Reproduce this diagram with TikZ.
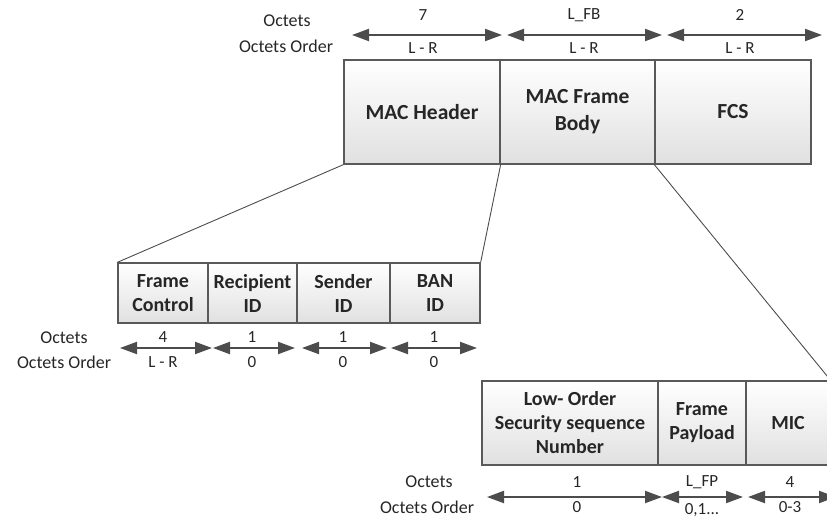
\documentclass[tikz,border=0pt]{standalone}
\usepackage{fontspec}
\setmainfont{Carlito}
\usetikzlibrary{arrows.meta}
\begin{document}
\begin{tikzpicture}[x=1pt,y=-1pt,
  box/.style={draw=black!65, line width=1.3pt, top color=white, bottom color=black!12,
    font=\bfseries\fontsize{20}{24}\selectfont, align=center, inner sep=0pt, text=black!85},
  bigbox/.style={box, font=\bfseries\fontsize{21.5}{27}\selectfont},
  dimarrow/.style={{Triangle[length=17pt,width=12pt]}-{Triangle[length=17pt,width=12pt]}, line width=2pt, draw=black!70},
  zoomline/.style={draw=black!70, line width=0.9pt},
  lbl/.style={font=\fontsize{18}{20}\selectfont, text=black!85, inner sep=0pt},
  num/.style={font=\fontsize{17}{18}\selectfont, text=black!85, inner sep=0pt}]
\useasboundingbox (0,0) rectangle (827,519);
\clip (0,0) rectangle (827,519);

% ---- top row ----
\node[bigbox, minimum width=156pt, minimum height=104pt] (mh)  at (422,112) {MAC Header};
\node[bigbox, minimum width=155pt, minimum height=104pt] (mfb) at (577.5,112) {MAC Frame\\Body};
\node[bigbox, minimum width=156pt, minimum height=104pt] (fcs) at (733,112) {FCS};

\node[lbl] (t1) at (287,21) {Octets};
\node[lbl] (t2) at (286,46) {Octets Order};

\coordinate (a1l) at (352,35); \coordinate (a1r) at (502,35);
\coordinate (a2l) at (507,35); \coordinate (a2r) at (662,35);
\coordinate (a3l) at (667,35); \coordinate (a3r) at (822,35);
\draw[dimarrow] (a1l) -- (a1r);
\draw[dimarrow] (a2l) -- (a2r);
\draw[dimarrow] (a3l) -- (a3r);
\node[num] (n1) at (423,15) {7};
\node[num] (n2) at (584,15) {L\_FB};
\node[num] (n3) at (740,15) {2};
\node[num] (o1) at (423,48) {L - R};
\node[num] (o2) at (584,48) {L - R};
\node[num] (o3) at (740,48) {L - R};

% ---- second row ----
\node[box, minimum width=90pt, minimum height=60pt] (fc)  at (163,293) {Frame\\Control};
\node[box, minimum width=89pt, minimum height=60pt] (rid) at (252.5,293) {Recipient\\ID};
\node[box, minimum width=93pt, minimum height=60pt] (sid) at (343.5,293) {Sender\\ID};
\node[box, minimum width=90pt, minimum height=60pt] (ban) at (435,293) {BAN\\ID};

\node[lbl] (s1) at (64,338) {Octets};
\node[lbl] (s2) at (64,362) {Octets Order};

\coordinate (b1l) at (120,348); \coordinate (b1r) at (212,348);
\coordinate (b2l) at (213,348); \coordinate (b2r) at (295,348);
\coordinate (b3l) at (302,348); \coordinate (b3r) at (387,348);
\coordinate (b4l) at (391,348); \coordinate (b4r) at (477,348);
\draw[dimarrow] (b1l) -- (b1r);
\draw[dimarrow] (b2l) -- (b2r);
\draw[dimarrow] (b3l) -- (b3r);
\draw[dimarrow] (b4l) -- (b4r);
\node[num] (m1) at (163,337) {4};
\node[num] (m2) at (252,337) {1};
\node[num] (m3) at (343,337) {1};
\node[num] (m4) at (434,337) {1};
\node[num] (p1) at (163,362) {L - R};
\node[num] (p2) at (252,362) {0};
\node[num] (p3) at (343,362) {0};
\node[num] (p4) at (434,362) {0};

% ---- third row ----
\node[box, minimum width=176pt, minimum height=84pt] (los) at (570,423) {Low- Order\\Security sequence\\Number};
\node[box, minimum width=88pt, minimum height=84pt] (fp)  at (702,423) {Frame\\Payload};
\node[box, minimum width=84pt, minimum height=84pt] (mic) at (788,423) {MIC};

\node[lbl] (r1) at (429,482) {Octets};
\node[lbl] (r2) at (427,507) {Octets Order};

\coordinate (c1l) at (487,497); \coordinate (c1r) at (662,497);
\coordinate (c2l) at (662,497); \coordinate (c2r) at (743,497);
\coordinate (c3l) at (748,497); \coordinate (c3r) at (836,497);
\draw[dimarrow] (c1l) -- (c1r);
\draw[dimarrow] (c2l) -- (c2r);
\draw[dimarrow] (c3l) -- (c3r);
\node[num] (q1) at (577,482) {1};
\node[num] (q2) at (702,482) {L\_FP};
\node[num] (q3) at (790,482) {4};
\node[num] (k1) at (577,507) {0};
\node[num] (k2) at (702,510) {0,1...};
\node[num] (k3) at (790,507) {0-3};

% ---- zoom lines ----
\draw[zoomline] (mh.south west) -- (fc.north west);
\draw[zoomline] (mh.south east) -- (ban.north east);
\draw[zoomline] (fcs.south west) -- (mic.north east);
\end{tikzpicture}
\end{document}
